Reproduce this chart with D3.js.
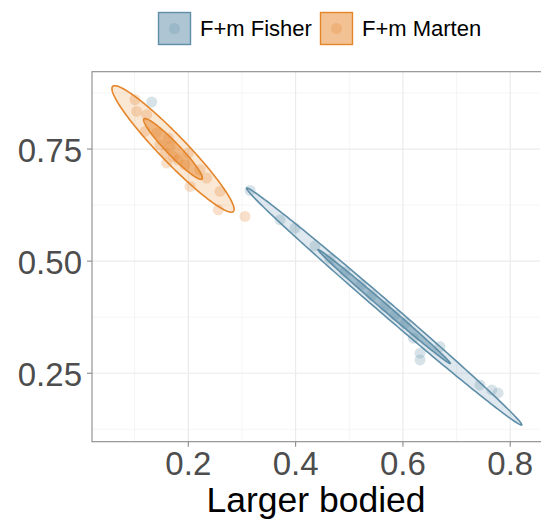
<!DOCTYPE html>
<html><head><meta charset="utf-8">
<script src="https://cdn.jsdelivr.net/npm/d3@7"></script>
<style>body{margin:0;background:#fff}svg{display:block}text{font-family:"Liberation Sans",Arial,sans-serif}</style>
</head><body>
<script>
const groups = ["F+m Fisher", "F+m Marten"];
const colors = ["#5e8ea8", "#e5852a"];
// points (x = Larger bodied proportion, y = other proportion)
const fisherX = [0.1318,0.315,0.3709,0.3989,0.4362,0.4641,0.4921,0.5219,0.5424,0.5666,0.5853,0.6039,0.6194,0.6319,0.6319,0.6691,0.7437,0.7655,0.7773];
const fisherY = [0.8549,0.6576,0.5922,0.5737,0.5342,0.5047,0.4759,0.4471,0.4241,0.3993,0.3801,0.3609,0.3281,0.2946,0.2797,0.3094,0.2239,0.2127,0.2060];
const martenX = [0.1007,0.1038,0.1225,0.1193,0.1411,0.1627,0.1659,0.1566,0.172,0.1597,0.2,0.2032,0.2218,0.2343,0.2591,0.2559,0.3057,0.1808,0.1938,0.1473];
const martenY = [0.860,0.8339,0.8266,0.7893,0.7857,0.7746,0.7558,0.7411,0.7335,0.7188,0.7411,0.6665,0.7038,0.6853,0.6554,0.6145,0.5996,0.7259,0.715,0.7596];
// ellipse parameters (95% level): center, major half-axis vector, minor half-axis vector (data units)
const ellCenterX = [0.5651, 0.1715];
const ellCenterY = [0.3987, 0.7502];
const ellMajor = [[0.2563, -0.2641], [0.1124, -0.1395]];
const ellMinor = [[0.0080, 0.0112], [0.0180, 0.0208]];
const levels = [0.95, 0.5];
const xTicks = [0.2, 0.4, 0.6, 0.8];
const yTicks = [0.25, 0.50, 0.75];
const xMinor = [0.1, 0.3, 0.5, 0.7];
const yMinor = [0.125, 0.375, 0.625, 0.875];

const W = 541, H = 520;
const L = 92, R = 540, T = 71.7, B = 441.7;
const svg = d3.select("body").append("svg").attr("width", W).attr("height", H);
const x = d3.scaleLinear().domain([0.0205, 0.8555]).range([L, R]);
const y = d3.scaleLinear().domain([0.0973, 0.9225]).range([B, T]);

// grid
const g = svg.append("g");
g.selectAll(".xm").data(xMinor).join("line").attr("x1", d => x(d)).attr("x2", d => x(d)).attr("y1", T).attr("y2", B).attr("stroke", "#f2f2f2").attr("stroke-width", 0.8);
g.selectAll(".ym").data(yMinor).join("line").attr("y1", d => y(d)).attr("y2", d => y(d)).attr("x1", L).attr("x2", R).attr("stroke", "#f2f2f2").attr("stroke-width", 0.8);
g.selectAll(".xM").data(xTicks).join("line").attr("x1", d => x(d)).attr("x2", d => x(d)).attr("y1", T).attr("y2", B).attr("stroke", "#ebebeb").attr("stroke-width", 1.2);
g.selectAll(".yM").data(yTicks).join("line").attr("y1", d => y(d)).attr("y2", d => y(d)).attr("x1", L).attr("x2", R).attr("stroke", "#ebebeb").attr("stroke-width", 1.2);

// ellipses
const chi = p => -2 * Math.log(1 - p);
const line = d3.line().x(d => x(d[0])).y(d => y(d[1])).curve(d3.curveLinearClosed);
const ts = d3.range(0, 2 * Math.PI, Math.PI / 120);
groups.forEach((gname, i) => {
  levels.forEach((lv, j) => {
    const s = Math.sqrt(chi(lv) / chi(0.95));
    const pts = ts.map(t => [
      ellCenterX[i] + s * (Math.cos(t) * ellMajor[i][0] + Math.sin(t) * ellMinor[i][0]),
      ellCenterY[i] + s * (Math.cos(t) * ellMajor[i][1] + Math.sin(t) * ellMinor[i][1])
    ]);
    svg.append("path").attr("d", line(pts)).attr("fill", colors[i]).attr("fill-opacity", j === 0 ? 0.2 : 0.5)
      .attr("stroke", colors[i]).attr("stroke-width", 1.6);
  });
});

// points
const pointSets = [[fisherX, fisherY], [martenX, martenY]];
pointSets.forEach((ps, i) => {
  svg.append("g").selectAll("circle").data(ps[0].map((v, k) => [v, ps[1][k]])).join("circle")
    .attr("cx", d => x(d[0])).attr("cy", d => y(d[1])).attr("r", 5.5)
    .attr("fill", colors[i]).attr("fill-opacity", 0.25);
});

// panel border
svg.append("rect").attr("x", L).attr("y", T).attr("width", R - L + 5).attr("height", B - T)
  .attr("fill", "none").attr("stroke", "#8a8a8a").attr("stroke-width", 1.1);

// axes ticks and labels
const ax = svg.append("g");
ax.selectAll(".xt").data(xTicks).join("line").attr("x1", d => x(d)).attr("x2", d => x(d)).attr("y1", B).attr("y2", B + 5).attr("stroke", "#8a8a8a").attr("stroke-width", 1.1);
ax.selectAll(".xl").data(xTicks).join("text").attr("x", d => x(d)).attr("y", 475).attr("text-anchor", "middle")
  .attr("font-size", 33).attr("fill", "#4d4d4d").text(d => d3.format(".1f")(d));
ax.selectAll(".yt").data(yTicks).join("line").attr("y1", d => y(d)).attr("y2", d => y(d)).attr("x1", L - 5).attr("x2", L).attr("stroke", "#8a8a8a").attr("stroke-width", 1.1);
ax.selectAll(".yl").data(yTicks).join("text").attr("x", 82).attr("y", d => y(d) + 12.5).attr("text-anchor", "end")
  .attr("font-size", 33).attr("fill", "#4d4d4d").text(d => d3.format(".2f")(d));
svg.append("text").attr("x", (L + R) / 2).attr("y", 512).attr("text-anchor", "middle").attr("font-size", 35.5).attr("fill", "#000").text("Larger bodied");

// legend
const legX = [158, 320];
groups.forEach((gname, i) => {
  const lg = svg.append("g").attr("transform", `translate(${legX[i]},12)`);
  lg.append("rect").attr("x", 0.5).attr("y", 0.5).attr("width", 32).attr("height", 32).attr("fill", colors[i]).attr("fill-opacity", 0.5)
    .attr("stroke", colors[i]).attr("stroke-width", 1.4);
  lg.append("circle").attr("cx", 16.5).attr("cy", 16.5).attr("r", 5.5).attr("fill", colors[i]).attr("fill-opacity", 0.25);
  lg.append("text").attr("x", 42).attr("y", 24).attr("font-size", 22).attr("fill", "#000").text(gname);
});
</script>
</body></html>
